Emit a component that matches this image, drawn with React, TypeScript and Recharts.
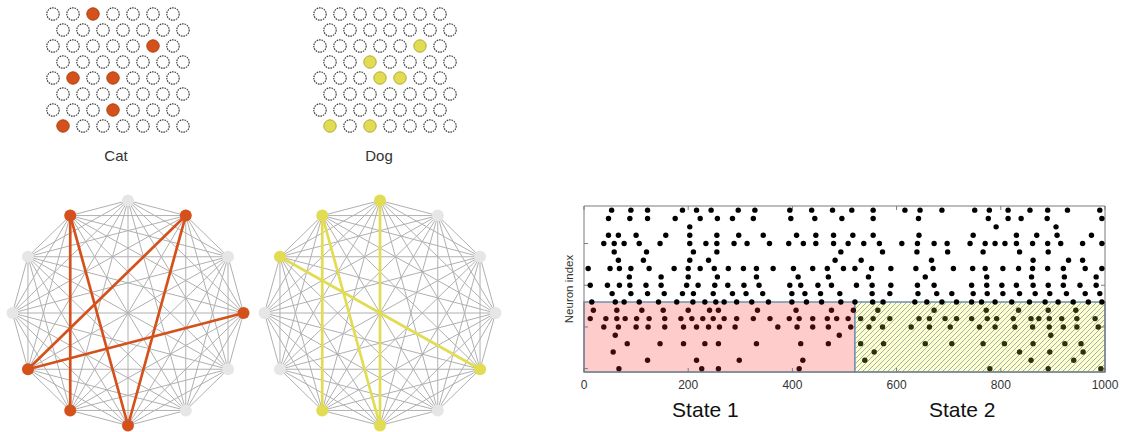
import React from 'react';
import { ScatterChart, Scatter, XAxis, YAxis, ReferenceArea } from 'recharts';

// feature grids ("x" = active unit), rows top to bottom
const catGrid = [
  '..x....',
  '.......',
  '.....x.',
  '.......',
  '.x.x...',
  '.......',
  '...x...',
  'x......',
];
const dogGrid = [
  '.......',
  '.......',
  '.....x.',
  '..x....',
  '...xx..',
  '.......',
  '.......',
  'x.x....',
];

// 12-node networks, node 0 at top, clockwise
const nodeIds = [0, 1, 2, 3, 4, 5, 6, 7, 8, 9, 10, 11];
const catNodes = [1, 3, 6, 7, 8, 11];
const catLinks = [[11, 7], [11, 6], [1, 8], [1, 6], [3, 8]];
const dogNodes = [0, 4, 6, 7, 10, 11];
const dogLinks = [[11, 7], [11, 6], [0, 6], [10, 4]];

// raster: spike times (ms) per neuron, neuron 0 at bottom
const neuron00 = [67, 226, 258, 413, 779, 891, 992];
const neuron01 = [122, 216, 298, 420, 539, 858, 940];
const neuron02 = [56, 557, 836, 894, 958];
const neuron03 = [83, 146, 191, 232, 258, 331, 416, 469, 531, 575, 655, 706, 766, 807, 862, 923, 954];
const neuron04 = [60, 490, 896];
const neuron05 = [38, 66, 100, 123, 155, 191, 216, 239, 260, 290, 372, 409, 439, 469, 512, 547, 573, 628, 663, 703, 759, 789, 827, 861, 893, 920, 946, 987];
const neuron06 = [12, 42, 63, 79, 101, 125, 155, 186, 207, 228, 248, 269, 293, 325, 357, 394, 413, 439, 467, 485, 507, 531, 555, 587, 643, 663, 693, 715, 744, 774, 792, 824, 858, 873, 893, 917, 946, 981];
const neuron07 = [18, 63, 111, 152, 200, 241, 258, 333, 407, 475, 517, 564, 672, 772, 834, 891, 944];
const neuron08 = [15, 60, 77, 106, 143, 178, 209, 232, 253, 269, 293, 322, 354, 399, 427, 456, 493, 520, 554, 574, 635, 658, 687, 715, 744, 763, 789, 821, 855, 885, 910, 939, 968, 994];
const neuron09 = [54, 90, 122, 154, 189, 210, 248, 285, 311, 343, 399, 424, 454, 491, 553, 587, 641, 677, 706, 747, 774, 804, 836, 866, 894, 926, 962, 990];
const neuron10 = [12, 45, 68, 88, 119, 148, 197, 219, 251, 276, 307, 336, 395, 416, 449, 475, 523, 553, 589, 640, 672, 744, 773, 802, 830, 862, 891, 920, 952, 983];
const neuron11 = [87, 148, 200, 256, 331, 411, 469, 546, 655, 773, 859, 922, 983];
const neuron12 = [8, 50, 68, 90, 125, 173, 200, 223, 250, 277, 306, 331, 363, 402, 439, 467, 498, 520, 552, 589, 637, 670, 709, 746, 770, 804, 834, 861, 890, 920, 962, 994];
const neuron13 = [66, 114, 203, 239, 482, 532, 667, 862, 930, 957];
const neuron14 = [58, 120, 210, 255, 493, 573, 639, 698, 766, 836, 891];
const neuron15 = [38, 58, 77, 106, 146, 203, 234, 255, 288, 313, 356, 393, 421, 445, 479, 507, 537, 567, 610, 640, 672, 697, 741, 770, 789, 808, 830, 861, 890, 915, 957, 994];
const neuron16 = [47, 66, 100, 157, 203, 255, 297, 344, 408, 445, 479, 516, 555, 643, 747, 830, 869, 908, 974];
const neuron17 = [203, 791, 906];
const neuron18 = [47, 88, 122, 175, 223, 256, 285, 325, 397, 443, 495, 555, 642, 776, 814, 839, 889, 994];
const neuron19 = [53, 90, 122, 189, 216, 244, 296, 328, 395, 437, 477, 514, 555, 616, 645, 687, 750, 778, 814, 856, 890, 928, 990];

const spikeTrains = [
  neuron00, neuron01, neuron02, neuron03, neuron04, neuron05, neuron06, neuron07, neuron08, neuron09,
  neuron10, neuron11, neuron12, neuron13, neuron14, neuron15, neuron16, neuron17, neuron18, neuron19,
];

const xTicks = [0, 200, 400, 600, 800, 1000];
const yTicks = [0, 5, 10, 15];
const stateTicks = [233, 726];
const stateLabels = ['State 1', 'State 2'];
const state1End = 520;
const stateTop = 8;

const ORANGE = '#d4511c';
const YELLOW = '#e2dc52';
const FRAME = '#7a7a7a';

const noShape = () => <g />;

function UnitGrid({ grid, color, edge, label, left, labelDx }: any) {
  const data = grid.flatMap((row: string, r: number) =>
    row.split('').map((ch, c) => ({ x: c + (r % 2) * 0.5, y: r, on: ch === 'x' }))
  );
  return (
    <div style={{ position: 'absolute', left, top: 0 }}>
      <ScatterChart width={170} height={172} margin={{ top: 0, right: 0, bottom: 0, left: 0 }}>
        <XAxis
          type="number"
          dataKey="x"
          domain={[-1, 7.5]}
          allowDataOverflow
          height={22}
          axisLine={false}
          tickLine={false}
          tick={false}
          label={{ value: label, position: 'insideTop', offset: 0, fontSize: 15, fill: '#333', dx: labelDx }}
        />
        <YAxis type="number" dataKey="y" domain={[-0.875, 8.5]} reversed hide allowDataOverflow />
        <Scatter
          data={data}
          isAnimationActive={false}
          shape={(p: any) => (
            <circle
              cx={p.cx}
              cy={p.cy}
              r={6.2}
              fill={p.payload.on ? color : '#fff'}
              stroke={p.payload.on ? edge : '#3c3c3c'}
              strokeWidth={p.payload.on ? 1 : 1.2}
              strokeDasharray={p.payload.on ? undefined : '1.6 0.9'}
            />
          )}
        />
      </ScatterChart>
    </div>
  );
}

function Network({ active, links, color, left }: any) {
  const nodes = nodeIds.map((k) => ({
    id: k,
    x: Math.sin((k * Math.PI) / 6),
    y: Math.cos((k * Math.PI) / 6),
    on: active.includes(k),
  }));
  const pairs: number[][] = [];
  nodeIds.forEach((a) => nodeIds.forEach((b) => { if (a < b) pairs.push([a, b]); }));
  return (
    <div style={{ position: 'absolute', left, top: 192 }}>
      <ScatterChart width={256} height={242} margin={{ top: 0, right: 0, bottom: 0, left: 0 }}>
        <XAxis type="number" dataKey="x" domain={[-1.108, 1.108]} hide allowDataOverflow />
        <YAxis type="number" dataKey="y" domain={[-1.0756, 1.0756]} hide allowDataOverflow />
        {pairs.map(([a, b]) => (
          <Scatter
            key={`g${a}-${b}`}
            data={[nodes[a], nodes[b]]}
            fill="#b0b0b0"
            line={{ stroke: '#b0b0b0', strokeWidth: 1 }}
            shape={noShape}
            isAnimationActive={false}
          />
        ))}
        {links.map(([a, b]: number[]) => (
          <Scatter
            key={`h${a}-${b}`}
            data={[nodes[a], nodes[b]]}
            fill={color}
            line={{ stroke: color, strokeWidth: 2.7 }}
            shape={noShape}
            isAnimationActive={false}
          />
        ))}
        <Scatter
          data={nodes}
          isAnimationActive={false}
          shape={(p: any) => (
            <circle cx={p.cx} cy={p.cy} r={6} fill={p.payload.on ? color : '#e6e6e6'} />
          )}
        />
      </ScatterChart>
    </div>
  );
}

function Raster() {
  const spikes = spikeTrains.flatMap((times, n) => times.map((t) => ({ t, n })));
  return (
    <div style={{ position: 'absolute', left: 554, top: 195 }}>
      <ScatterChart width={569} height={237} margin={{ top: 10, right: 0, bottom: 0, left: 0 }}>
        <defs>
          <pattern id="hatch" patternUnits="userSpaceOnUse" width="5" height="5">
            <rect width="5" height="5" fill="#ffffcc" />
            <path d="M-1,1 l2,-2 M0,5 l5,-5 M4,6 l2,-2" stroke="#93a7b8" strokeWidth="0.9" />
          </pattern>
        </defs>
        <XAxis
          xAxisId="top"
          orientation="top"
          type="number"
          dataKey="t"
          domain={[0, 1000]}
          ticks={xTicks}
          interval={0}
          height={1}
          tickSize={-4}
          tickFormatter={() => ''}
          stroke={FRAME}
          allowDataOverflow
        />
        <XAxis
          type="number"
          dataKey="t"
          domain={[0, 1000]}
          ticks={xTicks}
          interval={0}
          height={18}
          tickSize={-4}
          tickMargin={12}
          stroke={FRAME}
          tick={{ fill: '#333', fontSize: 12 }}
          allowDataOverflow
        />
        <XAxis
          xAxisId="state"
          type="number"
          dataKey="t"
          domain={[0, 1000]}
          ticks={stateTicks}
          interval={0}
          height={42}
          axisLine={false}
          tickLine={false}
          tickSize={0}
          tickMargin={12}
          tick={{ fill: '#111', fontSize: 21 }}
          tickFormatter={(v: number) => stateLabels[stateTicks.indexOf(v)]}
          allowDataOverflow
        />
        <YAxis
          type="number"
          dataKey="n"
          domain={[-0.4, 19.5]}
          ticks={yTicks}
          width={30}
          tickSize={-4}
          tickFormatter={() => ''}
          stroke={FRAME}
          label={{ value: 'Neuron index', angle: -90, position: 'center', fontSize: 11.5, fill: '#333' }}
          allowDataOverflow
        />
        <YAxis
          yAxisId="r"
          orientation="right"
          type="number"
          dataKey="n"
          domain={[-0.4, 19.5]}
          ticks={yTicks}
          width={18}
          tickSize={-4}
          tickFormatter={() => ''}
          stroke={FRAME}
          allowDataOverflow
        />
        <ReferenceArea x1={0} x2={state1End} y1={-0.4} y2={stateTop} fill="#ffcccc" fillOpacity={1} stroke="#7090b0" strokeWidth={1.5} />
        <ReferenceArea x1={state1End} x2={1000} y1={-0.4} y2={stateTop} fill="url(#hatch)" fillOpacity={1} stroke="#7090b0" strokeWidth={1.5} />
        {/* invisible series so the frame axes (top, right, state labels) get a domain */}
        <Scatter xAxisId="top" yAxisId="r" data={spikes} shape={noShape} isAnimationActive={false} />
        <Scatter xAxisId="state" data={spikes} shape={noShape} isAnimationActive={false} />
        <Scatter
          data={spikes}
          isAnimationActive={false}
          shape={(p: any) => {
            const { t, n } = p.payload;
            const fill = n < stateTop ? (t < state1End ? '#3a0b0b' : '#2f2f0c') : '#000';
            return <circle cx={p.cx} cy={p.cy} r={2.7} fill={fill} />;
          }}
        />
      </ScatterChart>
    </div>
  );
}

export default function App() {
  return (
    <div
      style={{
        position: 'absolute',
        left: 0,
        top: 0,
        width: 1123,
        height: 432,
        overflow: 'hidden',
        background: '#fff',
        fontFamily: '"Liberation Sans", Arial, sans-serif',
      }}
    >
      <UnitGrid grid={catGrid} color={ORANGE} edge="#a8400f" label="Cat" left={33} labelDx={-2} />
      <UnitGrid grid={dogGrid} color={YELLOW} edge="#b0aa3a" label="Dog" left={300} labelDx={-6} />
      <Network active={catNodes} links={catLinks} color={ORANGE} left={0} />
      <Network active={dogNodes} links={dogLinks} color={YELLOW} left={252} />
      <Raster />
    </div>
  );
}
